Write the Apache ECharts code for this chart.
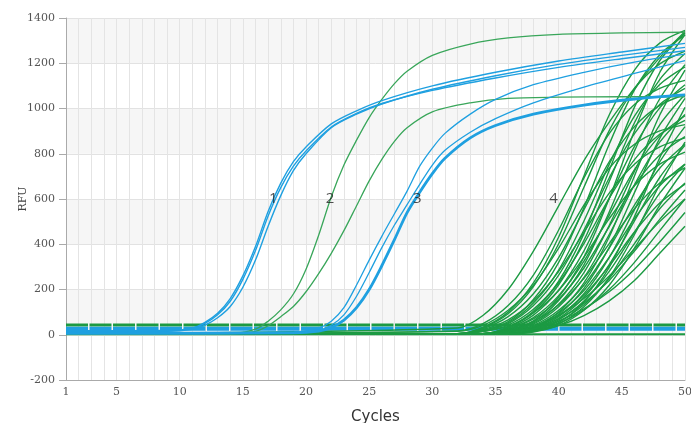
<!DOCTYPE html>
<html><head><meta charset="utf-8">
<script src="https://cdn.jsdelivr.net/npm/echarts@6/dist/echarts.min.js"></script>
<style>html,body{margin:0;padding:0;background:#fff}#c{width:691px;height:423px}</style>
</head><body><div id="c"></div>
<script>
// ---- data (RFU values) ----
const xTickLabels = [1, 5, 10, 15, 20, 25, 30, 35, 40, 45, 50];

const g1Cycles = [1, 9, 11, 12, 13, 14, 15, 16, 17, 18, 19, 20, 22, 24, 26, 30, 35, 40, 45, 50];
const g1A = [15, 16, 30, 55, 95, 160, 260, 390, 545, 670, 765, 830, 932, 990, 1035, 1100, 1160, 1210, 1250, 1288];
const g1B = [14, 15, 24, 42, 75, 125, 210, 330, 480, 615, 725, 800, 915, 975, 1020, 1085, 1145, 1195, 1235, 1270];
const g1C = [18, 19, 28, 50, 88, 148, 245, 372, 525, 650, 745, 812, 918, 978, 1022, 1080, 1135, 1182, 1220, 1255];

const g2Cycles = [1, 14, 16, 17, 18, 19, 20, 21, 22, 23, 24, 25, 26, 27, 28, 30, 33, 36, 40, 45, 50];
const g2A = [3, 5, 25, 60, 110, 180, 290, 440, 610, 750, 860, 960, 1040, 1110, 1165, 1235, 1285, 1312, 1328, 1334, 1337];
const g2B = [3, 4, 15, 40, 80, 125, 190, 270, 360, 460, 570, 680, 775, 855, 915, 985, 1025, 1045, 1050, 1052, 1052];

const g3Cycles = [1, 19, 21, 22, 23, 24, 25, 26, 27, 28, 29, 30, 31, 33, 35, 38, 42, 46, 50];
const g3A = [10, 12, 30, 60, 120, 220, 330, 435, 535, 635, 745, 825, 890, 975, 1040, 1105, 1160, 1205, 1240];
const g3B = [8, 10, 20, 42, 88, 170, 275, 385, 485, 575, 665, 750, 815, 895, 955, 1025, 1095, 1155, 1212];
const g3Thick = [6, 8, 16, 32, 65, 120, 200, 305, 420, 540, 630, 712, 780, 870, 925, 975, 1015, 1042, 1060];

const g4Cycles = [1, 32, 34, 36, 38, 40, 42, 44, 46, 48, 50];
const g4Curves = [
  [5, 30, 85, 200, 370, 570, 770, 940, 1090, 1225, 1340],
  [5, 17, 49, 129, 264, 463, 693, 889, 1018, 1089, 1124],
  [5, 15, 41, 108, 219, 383, 573, 736, 842, 901, 929],
  [5, 5, 33, 100, 229, 432, 702, 971, 1170, 1289, 1345],
  [5, 5, 31, 93, 213, 402, 652, 902, 1087, 1197, 1254],
  [5, 5, 27, 80, 181, 341, 553, 764, 920, 1014, 1062],
  [5, 5, 23, 66, 149, 280, 453, 626, 754, 830, 870],
  [5, 5, 19, 58, 156, 320, 562, 842, 1082, 1238, 1325],
  [5, 5, 18, 53, 140, 286, 503, 753, 966, 1106, 1184],
  [5, 5, 17, 49, 129, 264, 463, 693, 889, 1018, 1089],
  [5, 5, 15, 43, 113, 230, 403, 603, 774, 886, 948],
  [5, 5, 14, 37, 97, 196, 343, 513, 659, 754, 807],
  [5, 5, 5, 34, 104, 237, 447, 727, 1006, 1211, 1335],
  [5, 5, 5, 32, 97, 221, 417, 677, 937, 1128, 1243],
  [5, 5, 5, 29, 87, 197, 371, 603, 833, 1003, 1105],
  [5, 5, 5, 26, 76, 173, 325, 528, 730, 879, 968],
  [5, 5, 5, 24, 70, 157, 295, 478, 661, 795, 876],
  [5, 5, 5, 21, 59, 133, 249, 403, 557, 671, 739],
  [5, 5, 5, 20, 62, 167, 343, 602, 902, 1159, 1327],
  [5, 5, 5, 19, 56, 151, 309, 542, 812, 1043, 1194],
  [5, 5, 5, 17, 51, 135, 275, 483, 723, 928, 1062],
  [5, 5, 5, 16, 47, 124, 253, 443, 663, 851, 974],
  [5, 5, 5, 15, 41, 108, 219, 383, 573, 736, 842],
  [5, 5, 5, 14, 37, 97, 196, 343, 513, 659, 754],
  [5, 5, 5, 13, 34, 86, 174, 304, 454, 582, 666],
  [5, 5, 5, 5, 33, 100, 229, 432, 702, 971, 1170],
  [5, 5, 5, 5, 30, 90, 205, 386, 628, 868, 1045],
  [5, 5, 5, 5, 27, 80, 181, 341, 553, 764, 920],
  [5, 5, 5, 5, 25, 73, 165, 310, 503, 695, 837],
  [5, 5, 5, 5, 23, 66, 149, 280, 453, 626, 754],
  [5, 5, 5, 5, 21, 59, 133, 249, 403, 557, 671],
  [5, 5, 5, 10, 35, 85, 160, 260, 380, 500, 600],
  [5, 5, 5, 5, 18, 54, 145, 298, 522, 782, 1005],
  [5, 5, 5, 5, 16, 47, 124, 253, 443, 663, 851],
  [5, 5, 5, 5, 15, 41, 108, 219, 383, 573, 736],
  [5, 5, 5, 8, 28, 70, 140, 240, 370, 510, 640],
  [5, 5, 5, 8, 25, 60, 115, 190, 290, 410, 540],
  [5, 5, 5, 5, 15, 50, 110, 200, 320, 460, 600],
  [5, 5, 5, 5, 12, 40, 85, 150, 240, 360, 480]
];

const flatCycles = [1, 50];
const flatGreen = [2, 2];
const greenThreshold = [43, 43];
const blueThreshold = [26, 26];

const labelTexts = ['1', '2', '3', '4'];
const labelCycles = [17.4, 21.9, 28.8, 39.6];
const labelValues = [600, 600, 600, 600];

// ---- chart ----
const BLUE = '#1fa0e0', GREEN = '#1c9a43', GREEN2 = '#39a65a';
const pairs = (xs, ys) => xs.map((x, i) => [x, ys[i]]);
const line = (xs, ys, color, width, extra) => Object.assign({
  type: 'line', data: pairs(xs, ys), showSymbol: false, smooth: 0.3,
  lineStyle: { color: color, width: width }, itemStyle: { color: color }, silent: true
}, extra || {});

const series = [];
series.push(line(flatCycles, greenThreshold, GREEN, 3, { smooth: false, lineStyle: { color: GREEN, width: 3, type: [22, 1.5] } }));
series.push(line(flatCycles, blueThreshold, BLUE, 4, { smooth: false, lineStyle: { color: BLUE, width: 4, type: [22, 1.5] } }));
series.push(line(flatCycles, flatGreen, GREEN, 2, { smooth: false }));
g4Curves.forEach(c => series.push(line(g4Cycles, c, GREEN, 1.4)));
series.push(line(g2Cycles, g2A, GREEN2, 1.3));
series.push(line(g2Cycles, g2B, GREEN2, 1.3));
series.push(line(g3Cycles, g3A, BLUE, 1.3));
series.push(line(g3Cycles, g3B, BLUE, 1.3));
series.push(line(g3Cycles, g3Thick, BLUE, 2.8));
series.push(line(g1Cycles, g1A, BLUE, 1.4));
series.push(line(g1Cycles, g1B, BLUE, 1.4));
series.push(line(g1Cycles, g1C, BLUE, 1.4));
series.push({
  type: 'scatter', symbolSize: 0, silent: true, z: 10,
  data: labelCycles.map((c, i) => [c, labelValues[i]]),
  label: { show: true, position: 'inside', formatter: p => labelTexts[p.dataIndex],
           fontFamily: 'Open Sans', fontSize: 15, color: '#222' }
});

const chart = echarts.init(document.getElementById('c'), null, { renderer: 'canvas' });
chart.setOption({
  animation: false,
  backgroundColor: '#ffffff',
  grid: { left: 66, right: 6, top: 18, bottom: 43, containLabel: false, outerBoundsMode: 'none' },
  xAxis: {
    type: 'value', min: 1, max: 50, interval: 1,
    name: 'Cycles', nameLocation: 'middle', nameGap: 30,
    nameTextStyle: { fontFamily: 'DejaVu Sans', fontSize: 15, color: '#333' },
    axisLine: { show: true, onZero: false, lineStyle: { color: '#aaa' } },
    axisTick: { show: false },
    axisLabel: { margin: 7, fontFamily: 'DejaVu Serif', fontSize: 11, color: '#555',
      formatter: v => (xTickLabels.indexOf(v) >= 0 ? String(v) : '') },
    splitLine: { show: true, lineStyle: { color: '#e4e4e4', width: 1 } }
  },
  yAxis: {
    type: 'value', min: -200, max: 1400, interval: 200,
    name: 'RFU', nameLocation: 'middle', nameGap: 37, nameRotate: 90, nameMoveOverlap: false,
    nameTextStyle: { fontFamily: 'DejaVu Serif', fontSize: 11, color: '#444' },
    axisLine: { show: true, lineStyle: { color: '#aaa' } },
    axisTick: { show: true, length: 7, lineStyle: { color: '#aaa' } },
    axisLabel: { margin: 11, fontFamily: 'DejaVu Serif', fontSize: 11, color: '#555',
      formatter: v => String(v) },
    splitLine: { show: true, lineStyle: { color: '#e2e2e2' } },
    splitArea: { show: true, areaStyle: { color: ['#ffffff', '#f6f6f6'] } }
  },
  series: series
});
</script></body></html>
